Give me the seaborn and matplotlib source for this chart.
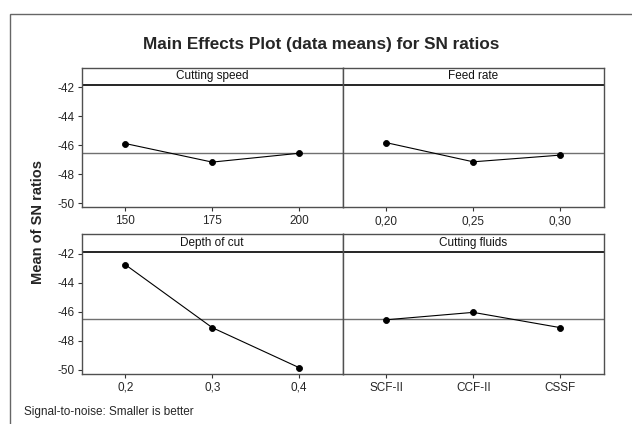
import numpy as np
import pandas as pd
import seaborn as sns
import matplotlib.pyplot as plt
from matplotlib.patches import Rectangle

# factor names and levels
factors = ['Cutting speed', 'Feed rate', 'Depth of cut', 'Cutting fluids']
speed_levels = ['150', '175', '200']
feed_levels = ['0,20', '0,25', '0,30']
depth_levels = ['0,2', '0,3', '0,4']
fluid_levels = ['SCF-II', 'CCF-II', 'CSSF']

# mean SN ratios per level
speed_sn = [-45.88, -47.16, -46.55]
feed_sn = [-45.82, -47.14, -46.68]
depth_sn = [-42.75, -47.09, -49.85]
fluid_sn = [-46.55, -46.04, -47.09]
grand_mean = -46.53

yticks = [-50, -48, -46, -44, -42]

levels = [speed_levels, feed_levels, depth_levels, fluid_levels]
values = [speed_sn, feed_sn, depth_sn, fluid_sn]

sns.set_theme(style='white')
plt.rcParams['font.family'] = ['Liberation Sans Narrow', 'Liberation Sans', 'DejaVu Sans']
plt.rcParams['axes.unicode_minus'] = False

fig, axes = plt.subplots(2, 2, figsize=(6.32, 4.24), dpi=100, sharey=True)
fig.subplots_adjust(left=0.1293, right=0.9552, bottom=0.1191, top=0.8408,
                    wspace=0, hspace=0.194)

strip_y = -41.85
y_lo, y_hi = -50.25, -40.645

for i, ax in enumerate(axes.flat):
    df = pd.DataFrame({'level': levels[i], 'sn': values[i]})
    sns.pointplot(data=df, x='level', y='sn', ax=ax, color='black',
                  errorbar=None, markersize=4.3, linewidth=0.8)
    ax.axhline(grand_mean, color='#707070', lw=1, zorder=1)
    ax.axhline(strip_y, color='black', lw=1.2)
    ax.text(1, (strip_y + y_hi) / 2, factors[i], ha='center', va='center',
            fontsize=8.5, color='#111111')
    ax.set_xlim(-0.5, 2.5)
    ax.set_ylim(y_lo, y_hi)
    ax.set_yticks(yticks)
    ax.set_xlabel('')
    ax.set_ylabel('')
    for sp in ax.spines.values():
        sp.set_color('#505050')
        sp.set_linewidth(1)
    ax.tick_params(axis='x', bottom=True, direction='out', length=3, width=0.8,
                   color='#333333', labelsize=8.5, pad=3)
    if i % 2 == 0:
        ax.tick_params(axis='y', left=True, direction='out', length=3, width=0.8,
                       color='#333333', labelsize=8.5, pad=2)
    else:
        ax.tick_params(axis='y', left=False, labelleft=False)

fig.text(0.508, 1 - 45 / 424, 'Main Effects Plot (data means) for SN ratios',
         ha='center', va='center', fontsize=12.3, fontweight='bold',
         family=['Liberation Sans', 'DejaVu Sans'])
fig.text(38.3 / 632, 1 - 221.7 / 424, 'Mean of SN ratios', rotation=90,
         ha='center', va='center', fontsize=10.5, fontweight='bold',
         family=['Liberation Sans', 'DejaVu Sans'])
fig.text(24 / 632, 1 - 411.7 / 424, 'Signal-to-noise: Smaller is better',
         ha='left', va='center', fontsize=8.5)

fig.patches.append(Rectangle((9.5 / 632, -0.1), 1.2, 1.1 - 14 / 424,
                             transform=fig.transFigure, fill=False,
                             edgecolor='#666666', lw=1))

fig.savefig('out.png', dpi=100)
